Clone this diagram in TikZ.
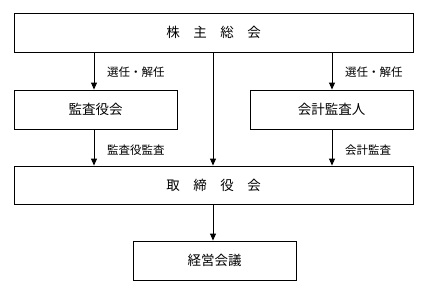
\documentclass[tikz,border=0pt]{standalone}
\usepackage{fontspec}
\newfontfamily\jp{Noto Sans CJK JP}
\usetikzlibrary{arrows.meta}
\tikzset{
  box/.style={draw=black, line width=0.9pt, rectangle, inner sep=0pt, minimum height=39pt, font=\jp\fontsize{13.5}{15}\selectfont},
  lbl/.style={anchor=west, inner sep=0pt, font=\jp\fontsize{11.5}{13}\selectfont},
  arr/.style={line width=0.9pt, -{Triangle[width=6pt,length=7pt]}},
  ln/.style={line width=0.9pt}
}
\begin{document}
\begin{tikzpicture}[x=1pt,y=-1pt]
\useasboundingbox[fill=white] (0,0) rectangle (442,287);
\node[box, minimum width=399pt] (top) at (213.5,32.5) {株　主　総　会};
\node[box, minimum width=163pt] (kansa) at (95.5,109.5) {監査役会};
\node[box, minimum width=163pt] (kaikei) at (331.5,109.5) {会計監査人};
\node[box, minimum width=399pt, minimum height=38pt] (board) at (213.5,185) {取　締　役　会};
\node[box, minimum width=163pt] (keiei) at (214.5,260.5) {経営会議};
\node[lbl] (l1) at (107,72) {選任・解任};
\node[lbl] (l2) at (345,72) {選任・解任};
\node[lbl] (l3) at (107,150) {監査役監査};
\node[lbl] (l4) at (345,150) {会計監査};
\coordinate (lx) at (94,0);
\coordinate (rx) at (332,0);
\coordinate (mx) at (213,0);
\draw[arr] (top.south -| lx) -- (kansa.north -| lx);
\draw[arr] (top.south -| rx) -- (kaikei.north -| rx);
\draw[arr] (top.south -| mx) -- (board.north -| mx);
\draw[arr] (kansa.south -| lx) -- (board.north -| lx);
\draw[arr] (kaikei.south -| rx) -- (board.north -| rx);
\draw[arr] (board.south -| mx) -- (keiei.north -| mx);
\end{tikzpicture}
\end{document}
